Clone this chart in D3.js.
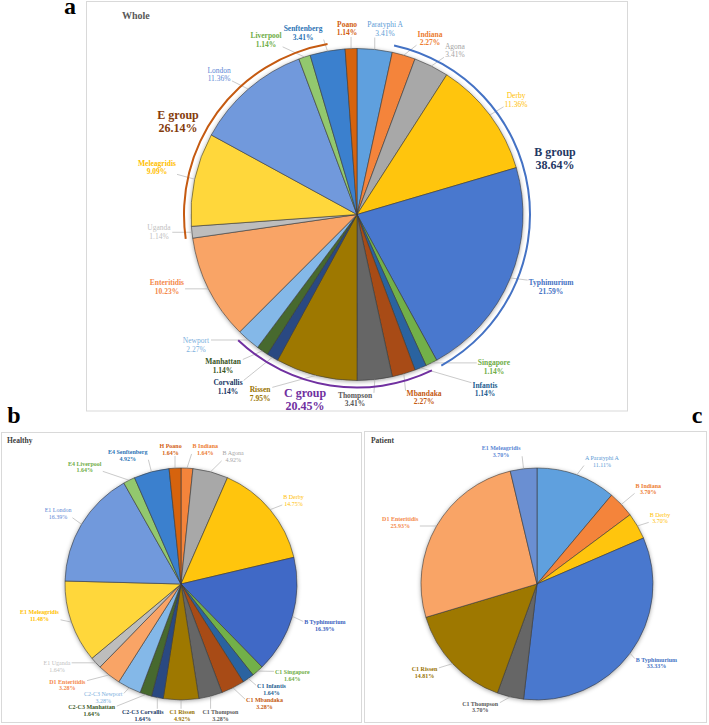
<!DOCTYPE html>
<html><head><meta charset="utf-8">
<script src="https://cdn.jsdelivr.net/npm/d3@7"></script>
<style>body{margin:0;background:#fff}svg{display:block}text{font-family:"Liberation Serif","Times New Roman",serif;font-weight:bold}</style>
</head><body><svg id="c" width="709" height="725"></svg>
<script>
// ---- data ----
const wholeNames = ["Paratyphi A","Indiana","Agona","Derby","Typhimurium","Singapore","Infantis","Mbandaka","Thompson","Rissen","Corvallis","Manhattan","Newport","Enteritidis","Uganda","Meleagridis","London","Liverpool","Senftenberg","Poano"];
const wholeValues = [3.41,2.27,3.41,11.36,21.59,1.14,1.14,2.27,3.41,7.95,1.14,1.14,2.27,10.23,1.14,9.09,11.36,1.14,3.41,1.14];

const groupNames = ["B group","C group","E group"];
const groupValues = [38.64,20.45,26.14];
const groupFirst = ["Indiana","Singapore","Uganda"];
const groupLast = ["Typhimurium","Newport","Senftenberg"];

const healthyNames = ["B Indiana","B Agona","B Derby","B Typhimurium","C1 Singapore","C1 Infantis","C1 Mbandaka","C1 Thompson","C1 Rissen","C2-C3 Corvallis","C2-C3 Manhattan","C2-C3 Newport","D1 Enteritidis","E1 Uganda","E1 Meleagridis","E1 London","E4 Liverpool","E4 Senftenberg","H Poano"];
const healthyValues = [1.64,4.92,14.75,16.39,1.64,1.64,3.28,3.28,4.92,1.64,1.64,3.28,3.28,1.64,11.48,16.39,1.64,4.92,1.64];

const patientNames = ["A Paratyphi A","B Indiana","B Derby","B Typhimurium","C1 Thompson","C1 Rissen","D1 Enteritidis","E1 Meleagridis"];
const patientValues = [11.11,3.70,3.70,33.33,3.70,14.81,25.93,3.70];

const panelTitles = ["Whole","Healthy","Patient"];
const panelLetters = ["a","b","c"];

// ---- styles ----
const sliceColor = {
  "Paratyphi A":"#5FA0DE","Indiana":"#F4843A","Agona":"#A8A8A8","Derby":"#FFC50A","Typhimurium":"#4878CE",
  "Singapore":"#72B04A","Infantis":"#2A64A0","Mbandaka":"#A84C12","Thompson":"#666666","Rissen":"#9E7800",
  "Corvallis":"#2A4A82","Manhattan":"#46692E","Newport":"#84B8E8","Enteritidis":"#F9A466","Uganda":"#BDBDBD",
  "Meleagridis":"#FFD73A","London":"#7199DC","Liverpool":"#92C86E","Senftenberg":"#3A80CE","Poano":"#D6630F"
};
const labelColor = {
  "Paratyphi A":"#5B9BD5","Indiana":"#ED7D31","Agona":"#A5A5A5","Derby":"#FFC000","Typhimurium":"#4472C4",
  "Singapore":"#70AD47","Infantis":"#255E91","Mbandaka":"#C55A11","Thompson":"#595959","Rissen":"#997300",
  "Corvallis":"#203864","Manhattan":"#375623","Newport":"#7CAFDD","Enteritidis":"#F4894B","Uganda":"#BFBFBF",
  "Meleagridis":"#FFC000","London":"#5B87D5","Liverpool":"#70AD47","Senftenberg":"#2E75B6","Poano":"#D26012"
};
const lightWeight = ["Paratyphi A","Agona","Uganda","Newport","London","Derby"];
const healthyOverride = {"Typhimurium":{fill:"#4169C6",label:"#3A62BE"}};
const patientOverride = {"Meleagridis":{fill:"#6A8FD2",label:"#5B87D5"}};
const groupArcColor = ["#4472C4","#7030A0","#C55A11"];
const groupTextColor = ["#1F3864","#7030A0","#843C0C"];

// label layout (relative to pie centre, in units of radius)
const wholeLabelXY = [[0.169,-1.119],[0.44,-1.061],[0.59,-0.988],[0.958,-0.69],[1.169,0.435],[0.825,0.917],[0.771,1.053],[0.404,1.101],[-0.012,1.114],[-0.584,1.081],[-0.777,1.039],[-0.807,0.913],[-0.97,0.786],[-1.145,0.437],[-1.193,0.105],[-1.205,-0.283],[-0.831,-0.846],[-0.548,-1.051],[-0.325,-1.095],[-0.06,-1.123]];
const groupLabelXY = [[1.193,-0.34],[-0.313,1.116],[-1.078,-0.563]];
const groupArcInsetDeg = [[0.1,0.5],[3,1.6],[0.1,5.7]];
const healthyLabelXY = [[0.21,-1.16],[0.45,-1.10],[0.97,-0.72],[1.24,0.36],[0.96,0.79],[0.78,0.91],[0.72,1.03],[0.34,1.13],[0.01,1.13],[-0.33,1.13],[-0.77,1.09],[-0.67,0.98],[-0.98,0.87],[-1.07,0.71],[-1.22,0.27],[-1.06,-0.61],[-0.83,-1.01],[-0.46,-1.11],[-0.09,-1.16]];
const patientLabelXY = [[0.56,-1.06],[0.96,-0.82],[1.06,-0.57],[1.03,0.68],[-0.49,1.06],[-0.97,0.76],[-1.18,-0.53],[-0.31,-1.14]];

const svg = d3.select("#c");
svg.append("rect").attr("width",709).attr("height",725).attr("fill","#fff");
const defs = svg.append("defs");
const f = defs.append("filter").attr("id","sh").attr("x","-20%").attr("y","-20%").attr("width","140%").attr("height","140%");
f.append("feDropShadow").attr("dx",0).attr("dy",1).attr("stdDeviation",2).attr("flood-color","#000").attr("flood-opacity",0.35);

// panel frames
const frames = [[86.5,1.5,541,409.5],[1.5,432.5,360,290],[364.5,431.5,342,291]];
frames.forEach(b=>svg.append("rect").attr("x",b[0]).attr("y",b[1]).attr("width",b[2]).attr("height",b[3]).attr("fill","#fff").attr("stroke","#D9D9D9").attr("stroke-width",1));
// panel letters
[[70,14],[14,423],[697,423]].forEach((p,i)=>svg.append("text").attr("x",p[0]).attr("y",p[1]).attr("text-anchor","middle").attr("font-size",24).attr("fill","#000").text(panelLetters[i]));
// titles
[[122,19,10,"#595959"],[7,443,7.5,"#404040"],[371,443,7.5,"#404040"]].forEach((p,i)=>svg.append("text").attr("x",p[0]).attr("y",p[1]).attr("font-size",p[2]).attr("fill",p[3]).text(panelTitles[i]));

const baseName = n => n.replace(/^(A|B|C1|C2-C3|D1|E1|E4|H)\s/,"");

function drawPie(cx, cy, r, names, values, layout, fs, lh, override){
  const g = svg.append("g").attr("transform",`translate(${cx},${cy})`);
  const arcs = d3.pie().sort(null).value(d=>d)(values);
  const arcGen = d3.arc().innerRadius(0).outerRadius(r);
  const pieG = g.append("g").attr("filter","url(#sh)");
  pieG.selectAll("path").data(arcs).join("path")
    .attr("d",arcGen)
    .attr("fill",(d,i)=>{const b=baseName(names[i]); return (override&&override[b])?override[b].fill:sliceColor[b];})
    .attr("stroke","#3a3a3a").attr("stroke-width",0.6).attr("stroke-linejoin","round");
  const lines = g.append("g"), labs = g.append("g");
  arcs.forEach((d,i)=>{
    const b = baseName(names[i]);
    const col = (override&&override[b])?override[b].label:labelColor[b];
    const lx = layout[i][0]*r, ly = layout[i][1]*r;
    const t = labs.append("text").attr("text-anchor","middle").attr("font-size",fs).attr("fill",col)
      .style("font-weight", lightWeight.includes(b) ? "normal" : "bold");
    t.append("tspan").attr("x",lx).attr("y",ly - lh/2 + fs*0.35).text(names[i]);
    t.append("tspan").attr("x",lx).attr("y",ly + lh/2 + fs*0.35).text(values[i].toFixed(2)+"%");
    const bb = t.node().getBBox();
    const mid = (d.startAngle+d.endAngle)/2;
    const px = r*Math.sin(mid), py = -r*Math.cos(mid);
    const x0=bb.x-1, x1=bb.x+bb.width+1, y0=bb.y, y1=bb.y+bb.height;
    let sx, sy;
    if (px < x0) { sx = x0; sy = Math.max(y0+2, Math.min(y1-2, py)); }
    else if (px > x1) { sx = x1; sy = Math.max(y0+2, Math.min(y1-2, py)); }
    else { sx = px; sy = py < y0 ? y0 : y1; }
    const dist = Math.hypot(px-sx, py-sy);
    if (dist > 3) lines.append("line").attr("x1",sx).attr("y1",sy).attr("x2",px).attr("y2",py).attr("stroke","#A6A6A6").attr("stroke-width",0.6);
  });
  return {g, arcs};
}

// Panel a
const rA = 166;
const A = drawPie(357, 214.5, rA, wholeNames, wholeValues, wholeLabelXY, 7.5, 8.4, null);
const deg = Math.PI/180;
const grpArc = d3.arc().innerRadius(rA+6).outerRadius(rA+8);
groupNames.forEach((gname,k)=>{
  const i0 = wholeNames.indexOf(groupFirst[k]), i1 = wholeNames.indexOf(groupLast[k]);
  A.g.append("path").attr("d",grpArc({startAngle:A.arcs[i0].startAngle+groupArcInsetDeg[k][0]*deg,endAngle:A.arcs[i1].endAngle-groupArcInsetDeg[k][1]*deg}))
    .attr("fill",groupArcColor[k]);
  const lx = groupLabelXY[k][0]*rA, ly = groupLabelXY[k][1]*rA;
  const t = A.g.append("text").attr("text-anchor","middle").attr("font-size",12).attr("fill",groupTextColor[k]);
  t.append("tspan").attr("x",lx).attr("y",ly-6.5+4.2).text(gname);
  t.append("tspan").attr("x",lx).attr("y",ly+6.5+4.2).text(groupValues[k].toFixed(2)+"%");
});

// Panel b, c
drawPie(181, 584, 116, healthyNames, healthyValues, healthyLabelXY, 6, 6.8, healthyOverride);
drawPie(537, 584, 116, patientNames, patientValues, patientLabelXY, 6, 6.8, patientOverride);
</script></body></html>
